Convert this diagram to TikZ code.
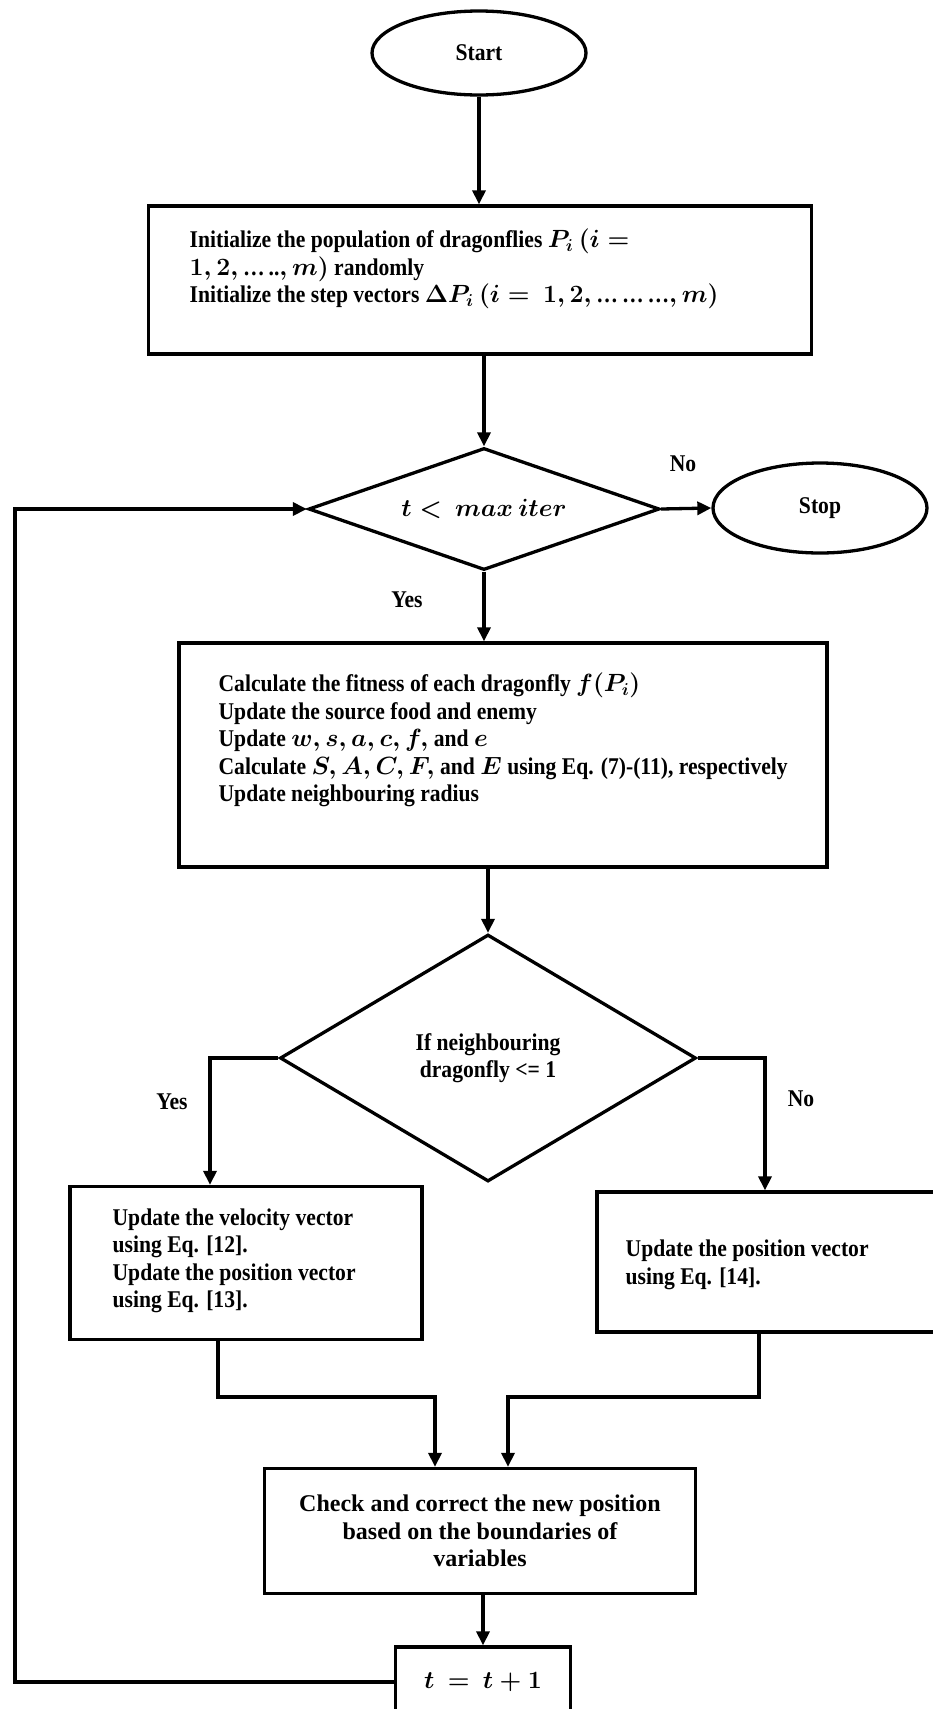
\documentclass[tikz,border=0pt]{standalone}
\usepackage{fontspec}
\setmainfont{Liberation Serif}[FakeStretch=0.9]
\newfontfamily\plainserif{Liberation Serif}
\usetikzlibrary{shapes.geometric,arrows.meta}

\begin{document}
\begin{tikzpicture}[
        x=1pt, y=-1pt,
        line width=3.3pt,
        every node/.style={font=\fontsize{24}{27.5}\selectfont\bfseries\boldmath},
        terminal/.style={draw, ellipse, inner sep=0, minimum width=214, minimum height=84},
        decision/.style={draw, diamond, inner sep=0, align=center},
        process/.style={draw, rectangle, inner sep=0},
        body/.style={align=left, inner sep=0},
        flow/.style={-{Triangle[length=14pt,width=13pt]}}
    ]
    \useasboundingbox (0,0) rectangle (933,1709);

    \node[terminal] (start) at (479,53) {Start};
    \node[process, minimum width=663, minimum height=148] (init) at (480,280) {};
    \node[body, anchor=west] (initTxt) at (188,269)
        {Initialize the population of dragonflies $P_i$ $(i =$\\
         $1, 2, \mbox{…\,..}, m)$ randomly\\
         Initialize the step vectors $\Delta P_i$ $(i =\ 1, 2, \mbox{…\,…\,…}, m)$};
    \node[decision, minimum width=351, minimum height=122, aspect=2.9] (iter) at (484,509) {$t<\ max\ iter$};
    \node[terminal, minimum height=90] (stop) at (820,508) {Stop};
    \node[process, minimum width=648, minimum height=224] (eval) at (503,755) {};
    \node[body, anchor=west] (evalTxt) at (217,740)
        {Calculate the fitness of each dragonfly $f(P_i)$\\
         Update the source food and enemy\\
         Update $w, s, a, c, f,$ and $e$\\
         Calculate $S, A, C, F,$ and $E$ using Eq. (7)-(11), respectively\\
         Update neighbouring radius};
    \node[decision, minimum width=416, minimum height=247, aspect=1.7] (nbr) at (488,1058) {If neighbouring\\dragonfly <= 1};
    \node[process, minimum width=352, minimum height=153] (vel) at (246,1263) {};
    \node[body, anchor=west] (velTxt) at (111,1261)
        {Update the velocity vector\\ using Eq. [12].\\ Update the position vector\\ using Eq. [13].};
    \node[process, minimum width=346, minimum height=140] (pos) at (770,1262) {};
    \node[body, anchor=west] (posTxt) at (624,1265) {Update the position vector\\ using Eq. [14].};
    \node[process, minimum width=431, minimum height=125, align=center,
          font=\fontsize{24}{27.5}\selectfont\plainserif\bfseries] (check) at (480,1531)
        {Check and correct the new position\\ based on the boundaries of\\ variables};
    \node[process, minimum width=175, minimum height=70] (incr) at (483,1682) {$t\ =\ t+1$};

    \node (noA) at (683,464) {No};
    \node (yesA) at (407,600) {Yes};
    \node (yesB) at (172,1102) {Yes};
    \node (noB) at (801,1099) {No};

    \coordinate (joinL) at (435,1397);
    \coordinate (joinR) at (508,1397);
    \coordinate (back) at (15,0);

    \draw[flow] (start.south) -- (start.south |- init.north);
    \draw[flow] (init.south -| iter) -- (iter.north);
    \draw[flow] (iter.east) -- (stop.west);
    \draw[flow] (iter.south) -- (iter.south |- eval.north);
    \draw[flow] (eval.south -| nbr) -- (nbr.north);
    \draw[flow] (nbr.west) -| ([xshift=-36]vel.north);
    \draw[flow] (nbr.east) -| ([xshift=-5]pos.north);
    \draw[flow] ([xshift=-28]vel.south) |- (joinL) -- (joinL |- check.north);
    \draw[flow] ([xshift=-11]pos.south) |- (joinR) -- (joinR |- check.north);
    \draw[flow] (check.south -| incr) -- (incr.north);
    \draw[flow] (incr.west) -| (back |- iter.west) -- (iter.west);
\end{tikzpicture}
\end{document}
